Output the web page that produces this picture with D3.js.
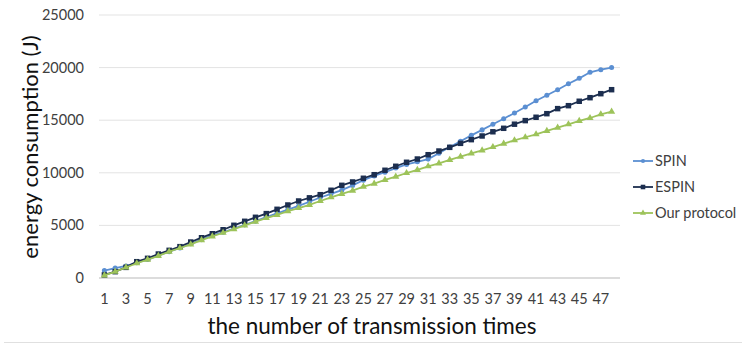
<!DOCTYPE html>
<html>
<head>
<meta charset="utf-8">
<script src="https://cdn.jsdelivr.net/npm/d3@7"></script>
<style>
  body { margin: 0; background: #fff; }
  svg { display: block; font-family: Lato, "Open Sans", sans-serif; }
</style>
</head>
<body>
<script>
// ---- data
var times = d3.range(1, 49)   // transmission times 1..48
var seriesNames = ['SPIN', 'ESPIN', 'Our protocol']
var spin = [700, 950, 1150, 1450, 1750, 2150, 2500, 2850, 3250, 3650,
  4050, 4350, 4700, 5050, 5400, 5800, 6150, 6500, 6850, 7250,
  7650, 8000, 8350, 8800, 9300, 9700, 10050, 10450, 10800, 11050,
  11300, 11850, 12450, 13000, 13560, 14080, 14610, 15140, 15690, 16250,
  16850, 17370, 17900, 18470, 18980, 19550, 19800, 20000]
var espin = [290, 600, 1010, 1550, 1870, 2280, 2630, 2980, 3420, 3830,
  4210, 4590, 5010, 5390, 5770, 6120, 6530, 6940, 7320, 7620,
  7920, 8340, 8810, 9130, 9480, 9820, 10240, 10620, 11000, 11310,
  11720, 12070, 12420, 12800, 13150, 13500, 13900, 14230, 14620, 14960,
  15280, 15620, 16100, 16380, 16800, 17140, 17520, 17900]
var ours = [250, 600, 1000, 1400, 1750, 2100, 2500, 2850, 3200, 3600,
  3950, 4300, 4650, 5000, 5350, 5700, 6000, 6350, 6650, 6950,
  7320, 7670, 7990, 8300, 8680, 8970, 9320, 9630, 9980, 10270,
  10620, 10900, 11220, 11530, 11850, 12130, 12450, 12770, 13090, 13380,
  13660, 13980, 14290, 14610, 14930, 15210, 15560, 15810]
var yTicks = [0, 5000, 10000, 15000, 20000, 25000]

// ---- chart
var W = 748, H = 345
var colors = { 'SPIN': '#5b8fd2', 'ESPIN': '#1c2e4f', 'Our protocol': '#9dc35a' }
var shapes = { 'SPIN': d3.symbolCircle, 'ESPIN': d3.symbolSquare, 'Our protocol': d3.symbolTriangle }
var sizes = { 'SPIN': 20, 'ESPIN': 30, 'Our protocol': 22 }

var svg = d3.select('body').append('svg')
    .attr('width', W).attr('height', H)

var x = d3.scaleBand().domain(times).range([99, 617])
var y = d3.scaleLinear().domain([0, 25000]).range([278, 15])

// grid
svg.append('g').selectAll('line')
  .data(yTicks)
  .enter().append('line')
    .attr('x1', 99).attr('x2', 620)
    .attr('y1', function (d) { return y(d) }).attr('y2', function (d) { return y(d) })
    .style('stroke', function (d) { return d == 0 ? '#d0d0d0' : '#e3e3e3' })
    .style('stroke-width', function (d) { return d == 0 ? 1.5 : 1 })

// y tick labels
svg.append('g').selectAll('text')
  .data(yTicks)
  .enter().append('text')
    .attr('x', 84).attr('y', function (d) { return y(d) + 5 })
    .attr('text-anchor', 'end')
    .style('font-size', '14.5px').style('fill', '#404040')
    .text(function (d) { return d })

// x tick labels (odd ones only, like the original)
svg.append('g').selectAll('text')
  .data(times.filter(function (d) { return d % 2 == 1 }))
  .enter().append('text')
    .attr('x', function (d) { return x(d) + x.bandwidth() / 2 })
    .attr('y', 304)
    .attr('text-anchor', 'middle')
    .style('font-size', '14.5px').style('fill', '#404040')
    .text(function (d) { return d })

// titles
svg.append('text')
  .attr('transform', 'translate(38,147) rotate(-90)')
  .attr('text-anchor', 'middle')
  .style('font-size', '22px').style('fill', '#111')
  .text('energy consumption (J)')
svg.append('text')
  .attr('x', 372).attr('y', 334)
  .attr('text-anchor', 'middle')
  .style('font-size', '22.5px').style('fill', '#111')
  .text('the number of transmission times')

// bottom border
svg.append('line')
  .attr('x1', 4).attr('x2', 742).attr('y1', 342.5).attr('y2', 342.5)
  .style('stroke', '#e0e0e0')

// series
var seriesData = [spin, espin, ours]
var line = d3.line()
  .x(function (d, i) { return x(times[i]) + x.bandwidth() / 2 })
  .y(function (d) { return y(d) })

seriesNames.forEach(function (name, k) {
  var vals = seriesData[k]
  var g = svg.append('g')
  g.append('path')
    .datum(vals)
    .attr('d', line)
    .style('fill', 'none')
    .style('stroke', colors[name])
    .style('stroke-width', 1.8)
  g.selectAll('path.m')
    .data(vals)
    .enter().append('path')
      .attr('class', 'm')
      .attr('transform', function (d, i) {
        return 'translate(' + (x(times[i]) + x.bandwidth() / 2) + ',' + y(d) + ')' })
      .attr('d', d3.symbol().type(shapes[name]).size(sizes[name]))
      .style('fill', colors[name])
})

// legend
var legend = svg.append('g').selectAll('g')
  .data(seriesNames)
  .enter().append('g')
    .attr('transform', function (d, i) { return 'translate(633,' + (161 + i * 26) + ')' })
legend.append('line')
  .attr('x1', 0).attr('x2', 20)
  .style('stroke', function (d) { return colors[d] })
  .style('stroke-width', 1.8)
legend.append('path')
  .attr('transform', 'translate(10,0)')
  .attr('d', function (d) { return d3.symbol().type(shapes[d]).size(sizes[d] * 0.7)() })
  .style('fill', function (d) { return colors[d] })
legend.append('text')
  .attr('x', 22).attr('y', 5)
  .style('font-size', '14.5px').style('fill', '#404040')
  .text(function (d) { return d })
</script>
</body>
</html>
